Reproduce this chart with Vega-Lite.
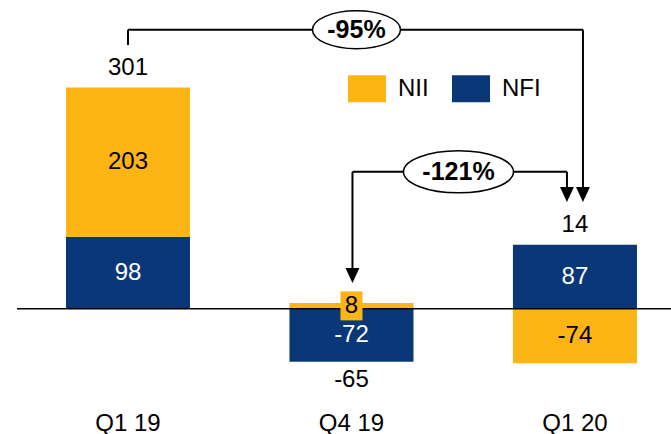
{
  "$schema": "https://vega.github.io/schema/vega-lite/v6.json",
  "width": 654,
  "height": 400,
  "autosize": "none",
  "padding": {"left": 17, "top": 0, "right": 0, "bottom": 34},
  "background": "white",
  "config": {"view": {"stroke": null}, "font": "Liberation Sans"},
  "datasets": {
    "segments": [
      {"q": "Q1 19", "type": "NFI", "value": 98},
      {"q": "Q1 19", "type": "NII", "value": 203},
      {"q": "Q4 19", "type": "NFI", "value": -72},
      {"q": "Q4 19", "type": "NII", "value": 8},
      {"q": "Q1 20", "type": "NFI", "value": 87},
      {"q": "Q1 20", "type": "NII", "value": -74}
    ],
    "totals": [
      {"q": "Q1 19", "total": 301, "top": 301, "bottom": 0},
      {"q": "Q4 19", "total": -65, "top": 8, "bottom": -72},
      {"q": "Q1 20", "total": 14, "top": 87, "bottom": -74}
    ],
    "changes": [
      {"from": "Q1 19", "to": "Q1 20", "label": "-95%"},
      {"from": "Q4 19", "to": "Q1 20", "label": "-121%"}
    ]
  },
  "layer": [
    {
      "data": {"name": "segments"},
      "mark": {"type": "bar"},
      "encoding": {
        "x": {"field": "q", "type": "nominal",
          "scale": {"domain": ["Q1 19", "Q4 19", "Q1 20"], "paddingInner": 0.445, "paddingOuter": 0.1857, "align": 0.59},
          "axis": {"title": null, "domain": false, "ticks": false, "labelAngle": 0, "labelFontSize": 24, "labelFont": "Liberation Sans", "labelColor": "black", "labelPadding": 11}},
        "y": {"field": "value", "type": "quantitative", "stack": "zero",
          "scale": {"domain": [-124, 420], "nice": false, "zero": false}, "axis": null},
        "color": {"field": "type", "type": "nominal",
          "scale": {"domain": ["NII", "NFI"], "range": ["#FDB515", "#0A3778"]},
          "legend": {"orient": "none", "legendX": 331, "legendY": 69.5, "direction": "horizontal", "title": null,
            "symbolType": "M-1,-0.71H1V0.71H-1Z", "symbolSize": 1444, "symbolStrokeWidth": 0, "symbolOpacity": 1,
            "labelFontSize": 24, "labelFont": "Liberation Sans", "labelColor": "black", "labelOffset": 12,
            "columnPadding": 23, "padding": 0}},
        "order": {"field": "type", "sort": "ascending"}
      }
    },
    {
      "data": {"values": [{}]},
      "mark": {"type": "rule", "color": "black", "strokeWidth": 1.5},
      "encoding": {"y": {"datum": 0}}
    },
    {
      "data": {"name": "segments"},
      "transform": [{"filter": "abs(datum.value) < 20"}],
      "mark": {"type": "point", "shape": "M-0.76,-1H0.76V1H-0.76Z", "size": 841, "filled": true, "color": "#FDB515", "opacity": 1, "strokeWidth": 0},
      "encoding": {
        "x": {"field": "q", "type": "nominal"},
        "y": {"field": "value", "type": "quantitative", "stack": "zero", "bandPosition": 0.5},
        "order": {"field": "type", "sort": "ascending"}
      }
    },
    {
      "data": {"name": "segments"},
      "mark": {"type": "text", "fontSize": 24, "baseline": "middle", "align": "center"},
      "encoding": {
        "x": {"field": "q", "type": "nominal"},
        "y": {"field": "value", "type": "quantitative", "stack": "zero", "bandPosition": 0.5},
        "order": {"field": "type", "sort": "ascending"},
        "text": {"field": "value", "type": "nominal"},
        "color": {"condition": {"test": "datum.type === 'NFI'", "value": "white"}, "value": "black"}
      }
    },
    {
      "data": {"name": "totals"},
      "transform": [{"filter": "datum.total > 0"}],
      "mark": {"type": "text", "fontSize": 24, "baseline": "middle", "align": "center", "dy": -20, "color": "black"},
      "encoding": {
        "x": {"field": "q", "type": "nominal"},
        "y": {"field": "top", "type": "quantitative"},
        "text": {"field": "total", "type": "nominal"}
      }
    },
    {
      "data": {"name": "totals"},
      "transform": [{"filter": "datum.total < 0"}],
      "mark": {"type": "text", "fontSize": 24, "baseline": "middle", "align": "center", "dy": 18, "color": "black"},
      "encoding": {
        "x": {"field": "q", "type": "nominal"},
        "y": {"field": "bottom", "type": "quantitative"},
        "text": {"field": "total", "type": "nominal"}
      }
    },
    {
      "data": {"name": "changes"},
      "transform": [{"filter": "datum.label === '-95%'"}],
      "mark": {"type": "rule", "color": "black", "strokeWidth": 2},
      "encoding": {"x": {"field": "from", "type": "nominal"}, "y": {"datum": 379.5}, "y2": {"datum": 358.8}}
    },
    {
      "data": {"name": "changes"},
      "transform": [{"filter": "datum.label === '-95%'"}],
      "mark": {"type": "rule", "color": "black", "strokeWidth": 2, "x2Offset": 8},
      "encoding": {"x": {"field": "from", "type": "nominal"}, "x2": {"field": "to"}, "y": {"datum": 379.5}}
    },
    {
      "data": {"name": "changes"},
      "transform": [{"filter": "datum.label === '-95%'"}],
      "mark": {"type": "rule", "color": "black", "strokeWidth": 2, "xOffset": 8},
      "encoding": {"x": {"field": "to", "type": "nominal"}, "y": {"datum": 379.5}, "y2": {"datum": 157}}
    },
    {
      "data": {"name": "changes"},
      "transform": [{"filter": "datum.label === '-95%'"}],
      "mark": {"type": "point", "shape": "M-0.93,-1L0.93,-1L0,1Z", "size": 225, "filled": true, "color": "black", "opacity": 1, "xOffset": 8},
      "encoding": {"x": {"field": "to", "type": "nominal"}, "y": {"datum": 155.5}}
    },
    {
      "data": {"name": "changes"},
      "transform": [{"filter": "datum.label === '-95%'"}],
      "mark": {"type": "point", "shape": "M-1,0A1,0.43,0,1,1,1,0A1,0.43,0,1,1,-1,0Z", "size": 7744, "filled": true, "fill": "white", "stroke": "black", "strokeWidth": 1.5, "opacity": 1, "xOffset": 5},
      "encoding": {"x": {"datum": "Q4 19"}, "y": {"datum": 379.5}}
    },
    {
      "data": {"name": "changes"},
      "transform": [{"filter": "datum.label === '-95%'"}],
      "mark": {"type": "text", "fontSize": 25, "fontWeight": "bold", "baseline": "middle", "align": "center", "color": "black", "xOffset": 5},
      "encoding": {"x": {"datum": "Q4 19"}, "y": {"datum": 379.5}, "text": {"field": "label"}}
    },
    {
      "data": {"name": "changes"},
      "transform": [{"filter": "datum.label === '-121%'"}],
      "mark": {"type": "rule", "color": "black", "strokeWidth": 2, "xOffset": 1},
      "encoding": {"x": {"field": "from", "type": "nominal"}, "y": {"datum": 186.3}, "y2": {"datum": 47}}
    },
    {
      "data": {"name": "changes"},
      "transform": [{"filter": "datum.label === '-121%'"}],
      "mark": {"type": "rule", "color": "black", "strokeWidth": 2, "xOffset": 1, "x2Offset": -8},
      "encoding": {"x": {"field": "from", "type": "nominal"}, "x2": {"field": "to"}, "y": {"datum": 186.3}}
    },
    {
      "data": {"name": "changes"},
      "transform": [{"filter": "datum.label === '-121%'"}],
      "mark": {"type": "rule", "color": "black", "strokeWidth": 2, "xOffset": -8},
      "encoding": {"x": {"field": "to", "type": "nominal"}, "y": {"datum": 186.3}, "y2": {"datum": 157}}
    },
    {
      "data": {"name": "changes"},
      "transform": [{"filter": "datum.label === '-121%'"}],
      "mark": {"type": "point", "shape": "M-0.93,-1L0.93,-1L0,1Z", "size": 225, "filled": true, "color": "black", "opacity": 1, "xOffset": -8},
      "encoding": {"x": {"field": "to", "type": "nominal"}, "y": {"datum": 155.5}}
    },
    {
      "data": {"name": "changes"},
      "transform": [{"filter": "datum.label === '-121%'"}],
      "mark": {"type": "point", "shape": "M-0.93,-1L0.93,-1L0,1Z", "size": 225, "filled": true, "color": "black", "opacity": 1, "xOffset": 1},
      "encoding": {"x": {"field": "from", "type": "nominal"}, "y": {"datum": 45.3}}
    },
    {
      "data": {"name": "changes"},
      "transform": [{"filter": "datum.label === '-121%'"}],
      "mark": {"type": "point", "shape": "M-1,0A1,0.382,0,1,1,1,0A1,0.382,0,1,1,-1,0Z", "size": 12100, "filled": true, "fill": "white", "stroke": "black", "strokeWidth": 1.5, "opacity": 1, "xOffset": 107},
      "encoding": {"x": {"datum": "Q4 19"}, "y": {"datum": 186.3}}
    },
    {
      "data": {"name": "changes"},
      "transform": [{"filter": "datum.label === '-121%'"}],
      "mark": {"type": "text", "fontSize": 25, "fontWeight": "bold", "baseline": "middle", "align": "center", "color": "black", "xOffset": 107},
      "encoding": {"x": {"datum": "Q4 19"}, "y": {"datum": 186.3}, "text": {"field": "label"}}
    }
  ]
}
